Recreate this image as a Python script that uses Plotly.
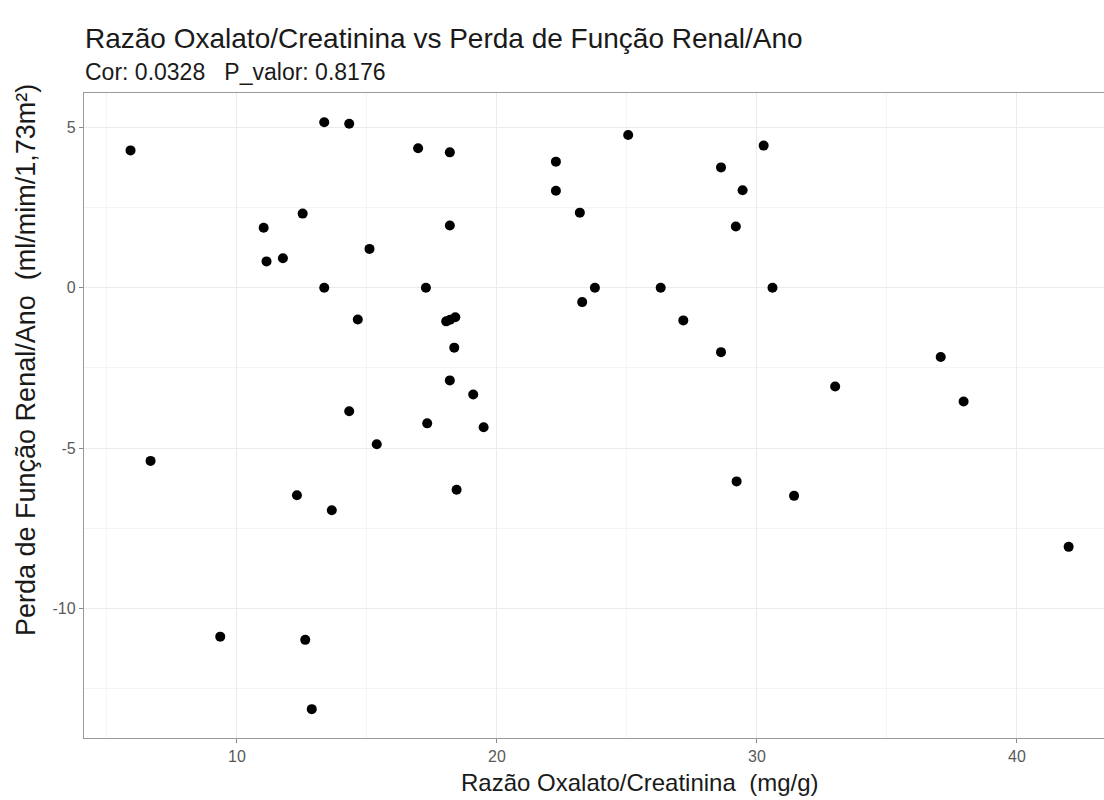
import plotly.graph_objects as go

# Razão Oxalato/Creatinina (mg/g)
oxalato = [5.91, 13.36, 14.32, 16.97, 18.19, 22.27, 22.27, 23.19, 12.53, 11.03,
           18.19, 15.10, 11.14, 11.77, 13.36, 17.27, 23.77, 23.28, 14.65, 18.05,
           18.20, 18.40, 18.36, 18.19, 19.09, 14.32, 17.32, 19.49, 15.38, 6.68,
           12.31, 13.65, 18.45, 9.36, 12.63, 12.88, 25.05, 30.26, 28.62, 29.45,
           29.19, 26.30, 30.60, 27.17, 28.62, 37.07, 33.01, 37.95, 29.22, 31.43,
           41.99]
# Perda de Função Renal/Ano (ml/mim/1,73m²)
perda = [4.28, 5.16, 5.11, 4.35, 4.22, 3.93, 3.02, 2.34, 2.31, 1.87,
         1.94, 1.21, 0.82, 0.92, 0.00, 0.00, 0.00, -0.45, -0.99, -1.05,
         -1.00, -0.92, -1.87, -2.89, -3.33, -3.85, -4.23, -4.35, -4.88, -5.40,
         -6.47, -6.94, -6.30, -10.88, -10.98, -13.14, 4.76, 4.43, 3.75, 3.04,
         1.91, 0.00, 0.00, -1.02, -2.01, -2.16, -3.08, -3.55, -6.04, -6.49,
         -8.08]

x_ticks = [10, 20, 30, 40]
x_tick_labels = ["10", "20", "30", "40"]
y_ticks = [-10, -5, 0, 5]
y_tick_labels = ["-10", "-5", "0", "5"]

titulo = "Razão Oxalato/Creatinina vs Perda de Função Renal/Ano"
subtitulo = "Cor: 0.0328   P_valor: 0.8176"
x_titulo = "Razão Oxalato/Creatinina  (mg/g)"
y_titulo = "Perda de Função Renal/Ano  (ml/mim/1,73m²)"

FONT = "Liberation Sans, Arial, sans-serif"

fig = go.Figure(go.Scatter(
    x=oxalato, y=perda, mode="markers",
    marker=dict(color="black", size=10, line=dict(width=0)),
    hoverinfo="x+y",
))

axis_common = dict(
    showline=True, linecolor="#9a9a9a", linewidth=1.3,
    ticks="outside", ticklen=4, tickcolor="#8a8a8a", tickwidth=1,
    tickfont=dict(family=FONT, size=16, color="#5a5a5a"),
    showgrid=True, gridcolor="#ebebeb", gridwidth=1,
    zeroline=False,
)

fig.update_xaxes(range=[4.12, 43.35], tickvals=x_ticks, ticktext=x_tick_labels,
                 mirror=True,
                 minor=dict(dtick=5, tick0=0, showgrid=True, gridcolor="#f4f4f4", ticks=""),
                 **axis_common)
fig.update_yaxes(range=[-14.04, 6.07], tickvals=y_ticks, ticktext=y_tick_labels,
                 mirror=False,
                 minor=dict(dtick=2.5, tick0=0, showgrid=True, gridcolor="#f4f4f4", ticks=""),
                 **axis_common)

fig.update_layout(
    width=1104, height=800,
    margin=dict(l=84, r=0, t=93, b=62),
    plot_bgcolor="white", paper_bgcolor="white",
    showlegend=False,
    font=dict(family=FONT),
    annotations=[
        dict(text=titulo, xref="paper", yref="paper", x=-0.001, y=1.0,
             xanchor="left", yanchor="middle", yshift=55, showarrow=False,
             font=dict(family=FONT, size=28, color="#1a1a1a")),
        dict(text=subtitulo, xref="paper", yref="paper", x=-0.001, y=1.0,
             xanchor="left", yanchor="middle", yshift=21, showarrow=False,
             font=dict(family=FONT, size=23, color="#1a1a1a")),
        dict(text=x_titulo, xref="paper", yref="paper", x=0.545, y=0,
             xanchor="center", yanchor="middle", yshift=-44, showarrow=False,
             font=dict(family=FONT, size=24, color="#1a1a1a")),
        dict(text=y_titulo, xref="paper", yref="paper", x=0, y=0.586,
             xanchor="center", yanchor="middle", xshift=-58, textangle=-90,
             showarrow=False,
             font=dict(family=FONT, size=27, color="#1a1a1a")),
    ],
)

post = ("document.body.style.margin='0px';"
        "document.body.style.overflow='hidden';"
        "var gd=document.getElementById('{plot_id}');"
        "Plotly.relayout(gd,{width:1104,height:800});")

fig.write_html("out.html", post_script=post, config={"displayModeBar": False})
